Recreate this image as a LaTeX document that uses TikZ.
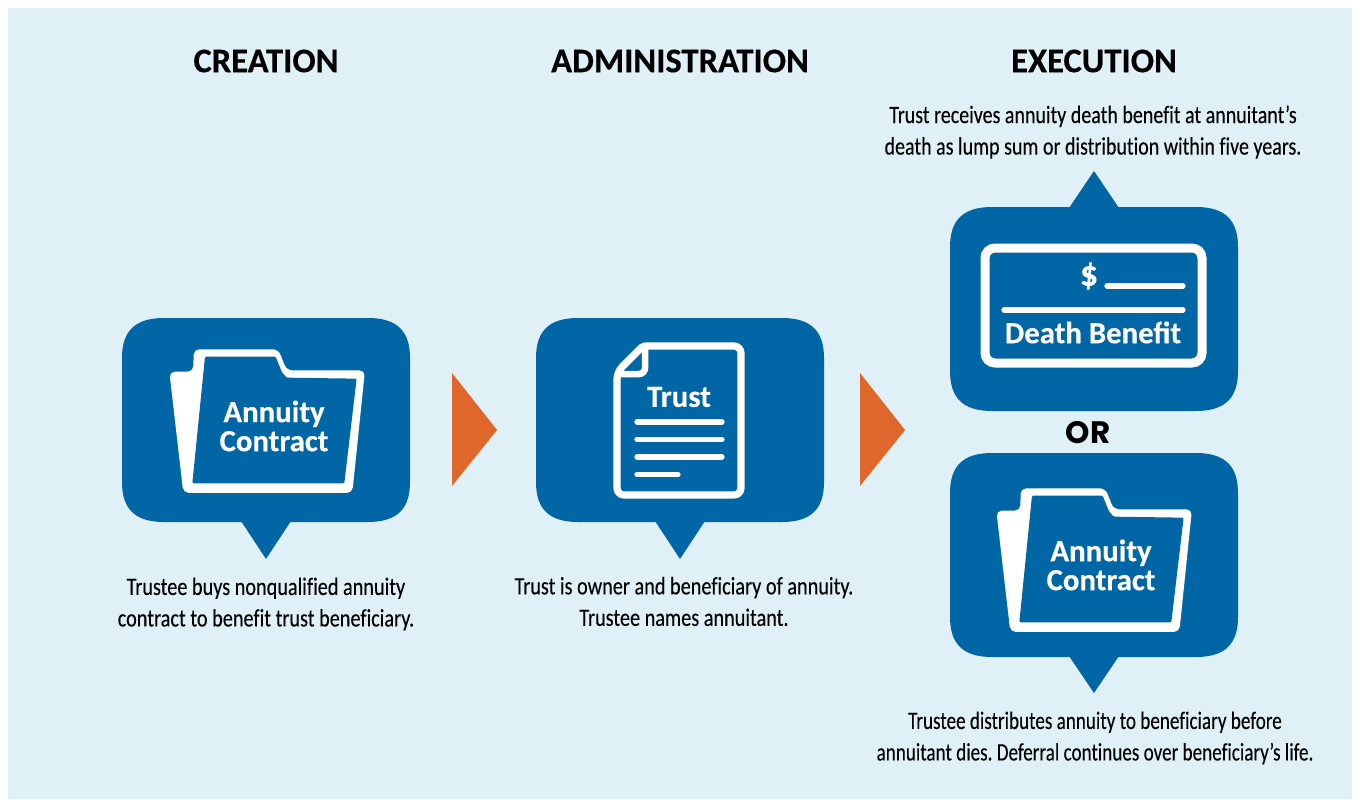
\documentclass[tikz,border=0pt]{standalone}
\usepackage{fontspec}
\setmainfont{Carlito}
\newfontfamily\bodyfont[FakeStretch=0.81,Ligatures=NoCommon,FakeBold=0.12]{Carlito}
\newfontfamily\bodyfontb[FakeStretch=0.80,Ligatures=NoCommon,FakeBold=0.12]{Carlito}
\newfontfamily\bodyfontc[FakeStretch=0.765,Ligatures=NoCommon,FakeBold=0.12]{Carlito}
\newfontfamily\headfont[BoldFeatures={FakeBold=0.35}]{Carlito}
\newfontfamily\orfont{Poppins}
\definecolor{panelblue}{HTML}{DFF1F6}
\definecolor{bubbleblue}{HTML}{0066A6}
\definecolor{arroworange}{HTML}{E0672B}
\tikzset{
  bubblefill/.style={fill=bubbleblue,draw=none},
  pointer/.style={fill=arroworange,draw=none},
  titletext/.style={font=\headfont\bfseries\fontsize{34.6}{38}\selectfont,text=black,inner sep=0pt,anchor=center},
  bodytext/.style={font=\bodyfont\frenchspacing\fontsize{25}{31.5}\selectfont,text=black,inner sep=0pt,align=center,anchor=center},
  icontext/.style={font=\headfont\bfseries\fontsize{30.8}{29}\selectfont,text=white,inner sep=0pt,align=center,anchor=center},
  iconline/.style={draw=white,line width=5.3pt,line cap=round},
}
% rounded bubble body: x0 y0 x1 y1
\newcommand{\bubblebody}[4]{%
  \fill[bubblefill] (#1+42,#2) -- (#3-42,#2)
    .. controls (#3-12,#2) and (#3,#2+14) .. (#3,#2+40)
    -- (#3,#4-40)
    .. controls (#3,#4-14) and (#3-12,#4) .. (#3-42,#4)
    -- (#1+42,#4)
    .. controls (#1+12,#4) and (#1,#4-14) .. (#1,#4-40)
    -- (#1,#2+40)
    .. controls (#1,#2+14) and (#1+12,#2) .. (#1+42,#2) -- cycle;}
% folder icon, drawn in 3x coordinates with given shift
\newcommand{\foldericon}[2]{%
  \begin{scope}[shift={(#1,#2)},x=0.3333pt,y=-0.3333pt]
    \fill[white,rounded corners=5.5pt] (300,118) -- (505,118) -- (530,181) -- (765,181) -- (727,549) -- (220,549) -- (178,185) -- (250,185) -- (251,118) -- cycle;
    \fill[bubbleblue,rounded corners=1.2pt] (285,140) -- (497,140) -- (516,187) -- (530,203) -- (740,206) -- (703,520) -- (247,520) -- cycle;
  \end{scope}}
\begin{document}
\begin{tikzpicture}[x=1pt,y=-1pt]
\useasboundingbox (0,0) rectangle (1353,800);
\fill[white] (0,0) rectangle (1353,800);
\fill[panelblue] (8,8) rectangle (1352,799);

\node[titletext] (t1) at (266,61) {CREATION};
\node[titletext] (t2) at (680,61) {ADMINISTRATION};
\node[titletext] (t3) at (1094,61) {EXECUTION};

% bubbles
\bubblebody{122}{318}{410}{522}
\fill[bubblefill] (241,521) -- (291,521) -- (266,559) -- cycle;
\bubblebody{536}{318}{824}{522}
\fill[bubblefill] (655,521) -- (705,521) -- (680,559) -- cycle;
\bubblebody{950}{207}{1238}{411}
\fill[bubblefill] (1069,208) -- (1119,208) -- (1094,171) -- cycle;
\bubblebody{950}{453}{1238}{657}
\fill[bubblefill] (1069,656) -- (1119,656) -- (1094,693) -- cycle;

% arrows
\fill[pointer] (452,373) -- (497,430) -- (452,486) -- cycle;
\fill[pointer] (860,373) -- (905,430) -- (860,486) -- cycle;

% folder icons
\foldericon{110}{310}
\node[icontext] (f1) at (274,426) {Annuity\\Contract};
\foldericon{937}{449}
\node[icontext] (f2) at (1101,565) {Annuity\\Contract};

% document icon
\draw[white,line width=7.2pt,line join=round,rounded corners=7pt] (690,346) -- (741,346) -- (741,495) -- (617,495) -- (617,372) [rounded corners=2pt] -- (643,346) -- (690,346);
\draw[white,line width=6.5pt,rounded corners=6pt] (645,349) -- (645,374) -- (617,374);
\draw[iconline] (637,422) -- (722,422);
\draw[iconline] (637,439.5) -- (722,439.5);
\draw[iconline] (637,457) -- (722,457);
\draw[iconline] (637,474.5) -- (678,474.5);
\node[icontext] (doc) at (679,397) {Trust};

% cheque icon
\draw[white,line width=9pt,rounded corners=10pt] (985,248) rectangle (1202,363);
\draw[iconline] (1107,286) -- (1183,286);
\draw[iconline] (1004,310) -- (1183,310);
\node[icontext,font=\headfont\bfseries\fontsize{36}{36}\selectfont] (dollar) at (1089,276) {\$};
\node[icontext] (dben) at (1093,332.5) {Death Benefit};

\node[font=\orfont\bfseries\fontsize{31}{32}\selectfont,text=black,inner sep=0pt] (or) at (1088,433) {OR};

% captions
\node[bodytext] (c1) at (266,604) {Trustee buys nonqualified annuity\\contract to benefit trust beneficiary.};
\node[bodytext] (c2) at (684,601.5) {Trust is owner and beneficiary of annuity.\\Trustee names annuitant.};
\node[bodytext,font=\bodyfontb\frenchspacing\fontsize{25}{31.5}\selectfont] (c3) at (1093,132) {Trust receives annuity death benefit at annuitant’s\\death as lump sum or distribution within five years.};
\node[bodytext,font=\bodyfontc\frenchspacing\fontsize{25}{31.5}\selectfont] (c4) at (1095,738) {Trustee distributes annuity to beneficiary before\\annuitant dies. Deferral continues over beneficiary’s life.};
\end{tikzpicture}
\end{document}
